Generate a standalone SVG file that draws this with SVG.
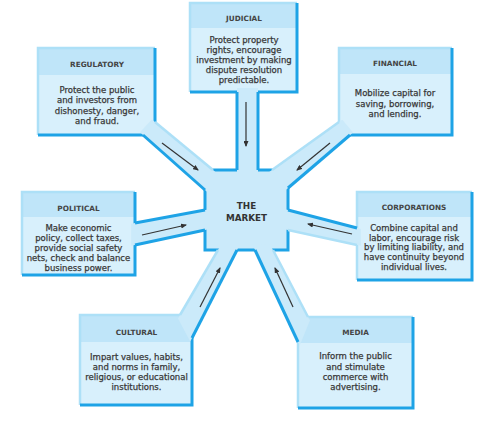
<svg xmlns="http://www.w3.org/2000/svg" width="482" height="439" viewBox="0 0 482 439">
<defs>
<style>
.body{fill:#d8f0fc}
.head{fill:#bfe5f9}
.lite{fill:none;stroke:#ade0f7;stroke-width:2.5}
.dark{fill:none;stroke:#1ea3e6;stroke-width:3}
.spoke{fill:#cbeafa;stroke:none}
.mk{fill:#cbeafa;stroke:#1ea3e6;stroke-width:3}
.ttl{font-family:"DejaVu Sans",sans-serif;font-weight:bold;font-size:7.3px;fill:#444;text-anchor:middle}
.txt{font-family:"DejaVu Sans",sans-serif;font-size:8.5px;fill:#383838;stroke:#383838;stroke-width:0.25;text-anchor:middle}
.mkt{font-family:"DejaVu Sans",sans-serif;font-weight:bold;font-size:8.8px;fill:#333;text-anchor:middle}
.arr{fill:none;stroke:#333;stroke-width:1.2;marker-end:url(#ah)}
</style>
<marker id="ah" viewBox="0 0 6 5" refX="5" refY="2.5" markerWidth="6" markerHeight="5" orient="auto" markerUnits="userSpaceOnUse">
<path d="M0,0 L6,2.5 L0,5 z" fill="#333"/>
</marker>
</defs>
<rect width="482" height="439" fill="#fff"/>

<g id="judicial">
<rect class="body" x="190" y="3" width="107" height="89"/>
<rect class="head" x="190" y="3" width="107" height="25"/>
<path class="lite" d="M190,92 V3 H297"/>
<path class="dark" d="M297,3 V92 H190"/>
<text class="ttl" x="244" y="21">JUDICIAL</text>
<text class="txt" x="244" y="43">Protect property</text>
<text class="txt" x="244" y="53">rights, encourage</text>
<text class="txt" x="244" y="63">investment by making</text>
<text class="txt" x="244" y="73">dispute resolution</text>
<text class="txt" x="244" y="83">predictable.</text>
</g>

<g id="regulatory">
<rect class="body" x="38" y="48" width="117" height="87"/>
<rect class="head" x="38" y="48" width="117" height="27"/>
<path class="lite" d="M38,135 V48 H155"/>
<path class="dark" d="M155,48 V135 H38"/>
<text class="ttl" x="97" y="67">REGULATORY</text>
<text class="txt" x="97" y="93">Protect the public</text>
<text class="txt" x="97" y="103">and investors from</text>
<text class="txt" x="97" y="113.5">dishonesty, danger,</text>
<text class="txt" x="97" y="123.5">and fraud.</text>
</g>

<g id="financial">
<rect class="body" x="339" y="48" width="113" height="87"/>
<rect class="head" x="339" y="48" width="113" height="26"/>
<path class="lite" d="M339,135 V48 H452"/>
<path class="dark" d="M452,48 V135 H339"/>
<text class="ttl" x="395" y="66">FINANCIAL</text>
<text class="txt" x="395" y="96">Mobilize capital for</text>
<text class="txt" x="395" y="106.5">saving, borrowing,</text>
<text class="txt" x="395" y="117">and lending.</text>
</g>

<g id="political">
<rect class="body" x="22" y="192" width="113" height="83"/>
<rect class="head" x="22" y="192" width="113" height="25"/>
<path class="lite" d="M22,275 V192 H135"/>
<path class="dark" d="M135,192 V275 H22"/>
<text class="ttl" x="78.5" y="210.5">POLITICAL</text>
<text class="txt" x="78.5" y="231">Make economic</text>
<text class="txt" x="78.5" y="241">policy, collect taxes,</text>
<text class="txt" x="78.5" y="251">provide social safety</text>
<text class="txt" x="78.5" y="261">nets, check and balance</text>
<text class="txt" x="78.5" y="271">business power.</text>
</g>

<g id="corporations">
<rect class="body" x="357" y="192" width="115" height="88"/>
<rect class="head" x="357" y="192" width="115" height="25"/>
<path class="lite" d="M357,280 V192 H472"/>
<path class="dark" d="M472,192 V280 H357"/>
<text class="ttl" x="414" y="209.5">CORPORATIONS</text>
<text class="txt" x="414" y="231">Combine capital and</text>
<text class="txt" x="414" y="240.5">labor, encourage risk</text>
<text class="txt" x="414" y="250">by limiting liability, and</text>
<text class="txt" x="414" y="260">have continuity beyond</text>
<text class="txt" x="414" y="270">individual lives.</text>
</g>

<g id="cultural">
<rect class="body" x="80" y="315" width="112" height="90"/>
<rect class="head" x="80" y="315" width="112" height="27"/>
<path class="lite" d="M80,405 V315 H192"/>
<path class="dark" d="M192,315 V405 H80"/>
<text class="ttl" x="136.5" y="334.5">CULTURAL</text>
<text class="txt" x="136.5" y="359.5">Impart values, habits,</text>
<text class="txt" x="136.5" y="369.5">and norms in family,</text>
<text class="txt" x="136.5" y="380">religious, or educational</text>
<text class="txt" x="136.5" y="390">institutions.</text>
</g>

<g id="media">
<rect class="body" x="298" y="317" width="115" height="91"/>
<rect class="head" x="298" y="317" width="115" height="26"/>
<path class="lite" d="M298,408 V317 H413"/>
<path class="dark" d="M413,317 V408 H298"/>
<text class="ttl" x="355.5" y="334.5">MEDIA</text>
<text class="txt" x="355.5" y="359">Inform the public</text>
<text class="txt" x="355.5" y="369.5">and stimulate</text>
<text class="txt" x="355.5" y="379.5">commerce with</text>
<text class="txt" x="355.5" y="390">advertising.</text>
</g>

<g id="market">
<rect class="mk" x="205" y="170" width="83" height="80"/>
<text class="mkt" x="246.5" y="208.5">THE</text>
<text class="mkt" x="246.5" y="220.5">MARKET</text>
</g>

<g id="connectors">
<g id="spokes">
<polygon class="spoke" points="237,88 237,176 258,176 258,88"/>
<line class="dark" x1="237" y1="92" x2="237" y2="170"/>
<line class="dark" x1="258" y1="92" x2="258" y2="170"/>

<polygon class="spoke" points="151.9,119.5 217.6,173.8 209.5,194 140,132.3"/>
<line class="lite" x1="155" y1="122" x2="213" y2="170"/>
<line class="dark" x1="143" y1="135" x2="205" y2="190"/>

<polygon class="spoke" points="342.3,119.7 267.1,173.5 283.4,191.9 353,132.4"/>
<line class="lite" x1="339" y1="122" x2="272" y2="170"/>
<line class="dark" x1="350" y1="135" x2="288" y2="188"/>

<polygon class="spoke" points="131.1,223.7 210.9,208.9 210.9,228.7 131.1,245.8"/>
<line class="dark" x1="135" y1="223" x2="205" y2="210"/>
<line class="dark" x1="135" y1="245" x2="205" y2="230"/>

<polygon class="spoke" points="360.9,229 282.2,208.5 282.1,228.7 360.9,245.8"/>
<line class="dark" x1="357" y1="228" x2="288" y2="210"/>
<line class="lite" x1="357" y1="245" x2="288" y2="230"/>

<polygon class="spoke" points="178,318.5 221,244.8 239.7,244.7 190.2,341.6"/>
<line class="lite" x1="180" y1="315" x2="218" y2="250"/>
<line class="dark" x1="192" y1="338" x2="237" y2="250"/>

<polygon class="spoke" points="299.7,345.6 252.5,244.6 270.2,244.7 309.9,320.5"/>
<line class="dark" x1="298" y1="342" x2="255" y2="250"/>
<line class="lite" x1="308" y1="317" x2="273" y2="250"/>
</g>
<g id="arrows">
<line class="arr" x1="246" y1="102" x2="246" y2="146"/>
<line class="arr" x1="162" y1="143" x2="198" y2="170"/>
<line class="arr" x1="330" y1="143" x2="297" y2="170"/>
<line class="arr" x1="142" y1="235" x2="186" y2="225"/>
<line class="arr" x1="352" y1="234" x2="308" y2="224"/>
<line class="arr" x1="200" y1="307" x2="220" y2="268"/>
<line class="arr" x1="293" y1="307" x2="275" y2="268"/>
</g>
</g>
</svg>
